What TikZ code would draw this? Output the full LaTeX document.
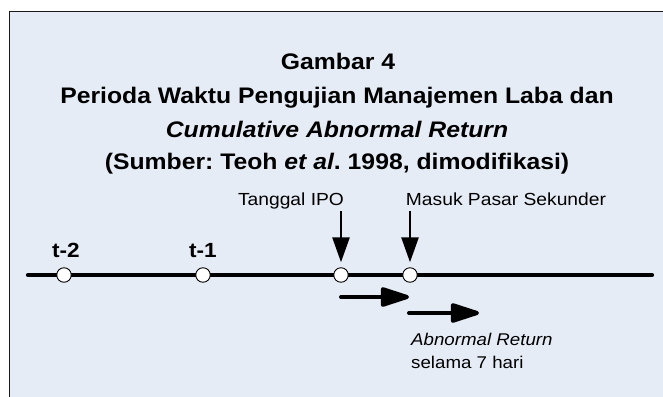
\documentclass[tikz,border=0pt]{standalone}
\usepackage{fontspec}
\setmainfont{Liberation Sans}[FakeStretch=1.1]
\usetikzlibrary{arrows.meta}
\definecolor{bgblue}{RGB}{230,236,246}
\definecolor{frameline}{RGB}{25,25,25}
\frenchspacing
\begin{document}
\begin{tikzpicture}[x=1pt,y=1pt,
  titletext/.style={anchor=base,inner sep=0pt,font=\fontsize{22.5}{27}\selectfont\bfseries},
  labeltext/.style={anchor=base,inner sep=0pt,font=\fontsize{17.5}{22}\selectfont},
  ticktext/.style={anchor=base,inner sep=0pt,font=\fontsize{20.5}{24}\selectfont\bfseries},
  tickdot/.style={circle,draw=black,line width=0.9pt,fill=white,minimum size=14.5pt,inner sep=0pt},
  downarrow/.style={line width=2.6pt,-{Triangle[length=25pt,width=17pt]},shorten >=5pt},
  rightarrow/.style={line width=4pt,line cap=round,-{Triangle[length=33pt,width=20pt,round=false]}}
]
\useasboundingbox (0,0) rectangle (663,-396);
\clip (0,0) rectangle (663,-396);
\draw[frameline,line width=1.4pt,fill=bgblue] (9.5,-11.5) rectangle (700,-420);

% title
\node[titletext] (title1) at (338,-70) {Gambar 4};
\node[titletext] (title2) at (337,-103.5) {Perioda Waktu Pengujian Manajemen Laba dan};
\node[titletext] (title3) at (337,-137) {\itshape Cumulative Abnormal Return};
\node[titletext] (title4) at (337,-169.5) {(Sumber: Teoh \textit{et al}. 1998, dimodifikasi)};

% timeline
\coordinate (lstart) at (28,-275);
\coordinate (lend) at (652,-275);
\draw[line width=4.3pt,line cap=round] (lstart) -- (lend);
\node[tickdot] (t2) at (64,-275) {};
\node[tickdot] (t1) at (203,-275) {};
\node[tickdot] (ipo) at (341,-275) {};
\node[tickdot] (sek) at (410,-275) {};

\node[ticktext] (lt2) at (66,-257) {t-2};
\node[ticktext] (lt1) at (203,-257) {t-1};

% event labels and arrows
\node[labeltext] (lipo) at (291,-205) {Tanggal IPO};
\node[labeltext] (lsek) at (506,-205) {Masuk Pasar Sekunder};
\coordinate (aipo) at (341,-211);
\coordinate (asek) at (410,-211);
\draw[downarrow] (aipo) -- (ipo.north);
\draw[downarrow] (asek) -- (sek.north);

% abnormal return arrows
\coordinate (r1s) at (341,-297);
\coordinate (r1e) at (409,-297);
\coordinate (r2s) at (409,-313);
\coordinate (r2e) at (479,-313);
\draw[rightarrow] (r1s) -- (r1e);
\draw[rightarrow] (r2s) -- (r2e);

\node[labeltext,anchor=base west,font=\fontsize{17}{22}\selectfont\itshape] (ar1) at (411,-345) {Abnormal Return};
\node[labeltext,anchor=base west,font=\fontsize{17}{22}\selectfont] (ar2) at (411,-368) {selama 7 hari};
\end{tikzpicture}
\end{document}
